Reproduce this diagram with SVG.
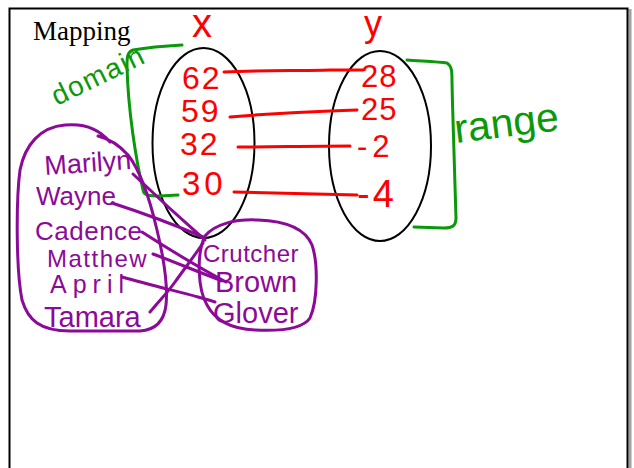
<svg xmlns="http://www.w3.org/2000/svg" width="634" height="468" viewBox="0 0 634 468">
  <style>
    .hand { font-family: "Liberation Sans", "Noto Sans", sans-serif; font-weight: normal; }
    .red { fill: #ff0000; }
    .green { fill: #0b990b; }
    .purple { fill: #8c0a98; }
    .set { fill: none; stroke: #000000; stroke-width: 2; }
    .redline { fill: none; stroke: #ff0000; stroke-width: 3; stroke-linecap: round; stroke-linejoin: round; }
    .greenline { fill: none; stroke: #0b990b; stroke-width: 3; stroke-linecap: round; stroke-linejoin: round; }
    .purpleline { fill: none; stroke: #8c0a98; stroke-width: 3; stroke-linecap: round; stroke-linejoin: round; }
  </style>

  <!-- page -->
  <rect x="0" y="0" width="634" height="468" fill="#ffffff"/>
  <line x1="630" y1="9" x2="630" y2="468" stroke="#a0a0a0" stroke-width="3"/>
  <path d="M9.5,480 L9.5,8.5 L627.5,8.5 L627.5,480" fill="none" stroke="#000000" stroke-width="2"/>

  <g id="title">
    <text x="33" y="40" font-family="Liberation Serif, serif" font-size="27" fill="#000000">Mapping</text>
  </g>

  <!-- domain set -->
  <g id="domain-set">
    <ellipse class="set" cx="203.5" cy="143" rx="51" ry="95"/>
    <text class="hand red" x="192" y="37" font-size="40">x</text>
    <text class="hand red" x="182" y="89" font-size="32" letter-spacing="2">62</text>
    <text class="hand red" x="181" y="122" font-size="32" letter-spacing="2">59</text>
    <text class="hand red" x="180" y="155" font-size="32" letter-spacing="2">32</text>
    <text class="hand red" x="182" y="195" font-size="33" letter-spacing="4">30</text>
  </g>

  <!-- range set -->
  <g id="range-set">
    <ellipse class="set" cx="380" cy="146" rx="51" ry="95"/>
    <text class="hand red" x="364" y="36" font-size="36">y</text>
    <text class="hand red" x="361" y="87" font-size="31" letter-spacing="1">28</text>
    <text class="hand red" x="361" y="120" font-size="31" letter-spacing="1">25</text>
    <text class="hand red" x="357" y="157" font-size="31" letter-spacing="5">-2</text>
    <text class="hand red" x="357" y="207" font-size="38" letter-spacing="3">-4</text>
  </g>

  <!-- domain bracket and label -->
  <g id="domain-label">
    <path class="greenline" d="M182,45 C165,46 145,48 133,50 C127,52 127,58 127,66 C128,110 136,160 143,190 C144,196 150,196 160,196 L178,195"/>
    <text class="hand green" x="57" y="106" font-size="28" letter-spacing="1.5" transform="rotate(-26 57 106)">domain</text>
  </g>

  <!-- range bracket and label -->
  <g id="range-label">
    <path class="greenline" d="M407,60 C420,61 438,62 447,63 C452,66 452,72 452,82 C453,130 455,180 456,218 C456,226 452,228 444,228 L414,227"/>
    <text class="hand green" x="456" y="143" font-size="41" transform="rotate(-7 456 143)">range</text>
  </g>

  <!-- names set -->
  <g id="names-set">
    <path class="purpleline" d="M98,136 C110,139 120,146 128,155 C140,170 150,200 157,230 C163,255 168,285 166,305 C164,322 155,330 140,331 L70,331 C40,331 28,320 22,300 C16,270 16,200 20,170 C25,145 40,127 65,125 C85,123 100,130 110,142"/>
    <text class="hand purple" x="45" y="175" font-size="27" transform="rotate(-4 45 175)">Marilyn</text>
    <text class="hand purple" x="36" y="205" font-size="26">Wayne</text>
    <text class="hand purple" x="35" y="240" font-size="26" letter-spacing="0.5">Cadence</text>
    <text class="hand purple" x="47" y="267" font-size="24" letter-spacing="1.5">Matthew</text>
    <text class="hand purple" x="50" y="293" font-size="25" letter-spacing="6">April</text>
    <text class="hand purple" x="44" y="327" font-size="29">Tamara</text>
  </g>

  <!-- teachers set -->
  <g id="teachers-set">
    <path class="purpleline" d="M205,236 C215,224 235,219 258,220 C285,221 305,228 312,245 C318,262 318,300 310,318 C302,330 275,331 255,330 C230,329 215,320 207,305 C198,290 196,255 205,236 Z"/>
    <text class="hand purple" x="203" y="262" font-size="24" letter-spacing="0.5">Crutcher</text>
    <text class="hand purple" x="215" y="292" font-size="29">Brown</text>
    <text class="hand purple" x="213" y="323" font-size="29">Glover</text>
  </g>

  <!-- connectors -->
  <g id="connectors">
    <path class="redline" d="M224,72 C260,70 300,71 330,70 C345,70 355,70 363,70"/>
    <path class="redline" d="M230,117 C265,114 300,112 330,111 L357,110"/>
    <path class="redline" d="M238,147 C270,147 310,146 350,146"/>
    <path class="redline" d="M234,192 C270,193 310,194 357,195"/>

    <path class="purpleline" d="M133,174 C155,195 180,218 205,240"/>
    <path class="purpleline" d="M112,203 C140,212 175,225 203,237"/>
    <path class="purpleline" d="M142,232 C170,250 200,268 226,282"/>
    <path class="purpleline" d="M153,254 C175,262 198,272 220,280"/>
    <path class="purpleline" d="M122,277 C150,285 180,292 198,297 C205,299 210,300 215,302"/>
    <path class="purpleline" d="M150,312 C160,300 168,292 175,282 C185,268 195,255 203,243"/>
  </g>
</svg>
